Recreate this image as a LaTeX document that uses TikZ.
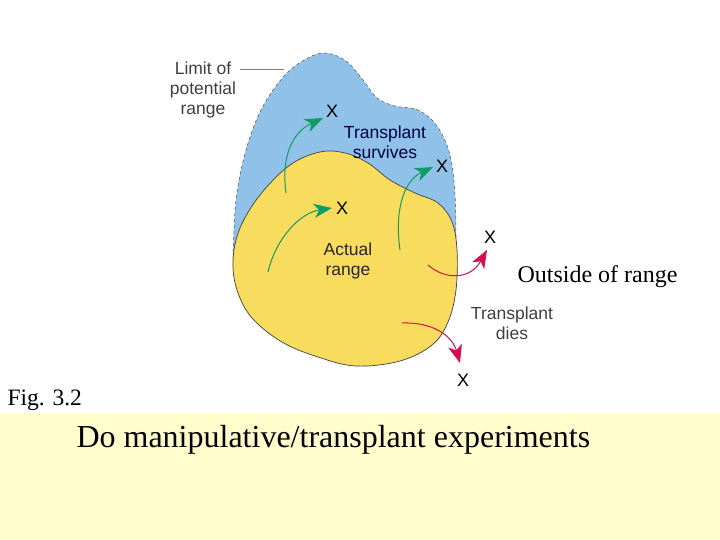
\documentclass[tikz,border=0pt]{standalone}
\usepackage{fontspec}
\setmainfont{Liberation Serif}
\setsansfont{Liberation Sans}
\usetikzlibrary{arrows.meta}
\definecolor{potblue}{HTML}{8FC1E9}
\definecolor{actyellow}{HTML}{F8DC5E}
\definecolor{notebg}{HTML}{FFFDCC}
\definecolor{okgreen}{HTML}{109C66}
\definecolor{badred}{HTML}{D80A50}
\begin{document}
\begin{tikzpicture}[x=1pt,y=-1pt,
    lab/.style={font=\sffamily\fontsize{17.5}{20}\selectfont,align=center,text=black!75},
    xmark/.style={font=\sffamily\fontsize{18}{18}\selectfont,inner sep=0pt},
    survive/.style={-{Stealth[length=18pt,width=14pt,inset=5pt]},okgreen,line width=1pt},
    dies/.style={-{Stealth[length=18pt,width=14pt,inset=5pt]},badred,line width=1pt}]
			\useasboundingbox (0,0) rectangle (720,540);
			\fill[notebg] (0,413) rectangle (720,540);
			% potential range
			\filldraw[potblue,draw=black!70,dashed,line width=0.5pt] plot[smooth,tension=0.6] coordinates {(233,258) (236,200) (246,150) (262,108) (285,75) (308,58) (326,53) (346,61) (363,80) (377,98) (395,106) (418,110) (437,126) (450,155) (455,195) (456,238)};
			% actual range
			\filldraw[actyellow,draw=black!75,line width=0.7pt] plot[smooth cycle,tension=0.6] coordinates {(320,152) (345,153) (368,163) (390,180) (415,193) (438,203) (452,222) (457,250) (456,290) (448,322) (432,345) (400,361) (356,366) (318,357) (282,342) (252,318) (237,290) (233,260) (240,228) (260,195) (290,165)};
			\node[lab] (limit) at (203,90) {Limit of\\potential\\range};
			\coordinate (lim1) at (240,69);
			\coordinate (lim2) at (284,69);
			\draw[black!50,line width=0.7pt] (lim1) -- (lim2);
			\node[lab,text=blue!25!black] (surv) at (385,142) {Transplant\\survives};
			\node[lab,text=black!85] (act) at (348,261) {Actual\\range};
			\node[lab] (dies) at (512,323) {Transplant\\dies};
			\node[xmark] (x1) at (332,111) {X};
			\node[xmark] (x2) at (442,166) {X};
			\node[xmark] (x3) at (342,208) {X};
			\node[xmark] (x4) at (490,237) {X};
			\node[xmark] (x5) at (463,380) {X};
			\coordinate (s1) at (286,193);
			\coordinate (s2) at (268,272);
			\coordinate (s3) at (400,250);
			\coordinate (d1) at (428,265);
			\coordinate (d2) at (402,323);
			\draw[survive] (s1) .. controls (281,155) and (293,132) .. ([xshift=-9pt,yshift=-7pt]x1.center);
			\draw[survive] (s2) .. controls (276,238) and (300,213) .. ([xshift=-10pt]x3.center);
			\draw[survive] (s3) .. controls (394,208) and (405,180) .. ([xshift=-9pt,yshift=-1pt]x2.center);
			\draw[dies] (d1) .. controls (445,280) and (470,280) .. ([xshift=-3pt,yshift=-13pt]x4.center);
			\draw[dies] (d2) .. controls (432,322) and (452,335) .. ([xshift=-3pt,yshift=17pt]x5.center);
			\node[font=\fontsize{24}{24}\selectfont,anchor=west] (outside) at (514,277) {Outside of range};
			\node[font=\fontsize{23.5}{24}\selectfont,anchor=west] (fig) at (4,400) {Fig. 3.2};
			\node[font=\fontsize{32}{32}\selectfont,anchor=west] (exp) at (73,440) {Do manipulative/transplant experiments};
		\end{tikzpicture}
\end{document}
